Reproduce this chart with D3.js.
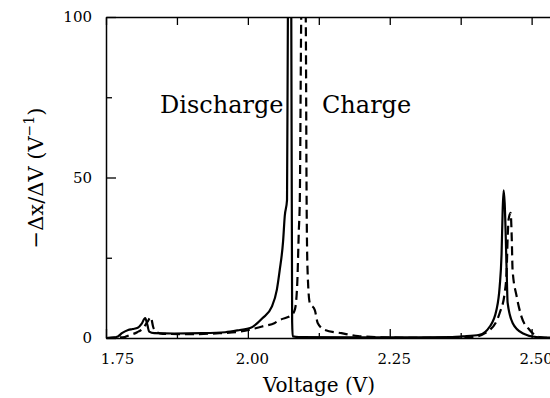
<!DOCTYPE html>
<html>
<head>
<meta charset="utf-8">
<script src="https://cdn.jsdelivr.net/npm/d3@7"></script>
<style>
  body { margin: 0; background: #fff; }
  text { font-family: "DejaVu Serif", serif; fill: #000; }
</style>
</head>
<body>
<div id="chart"></div>
<script>
// discharge curve (solid): [voltage, -dx/dV]
let discharge = [
  [1.75, 0], [1.76, 0.1], [1.771, 0.5], [1.778, 1.5], [1.789, 2.5], [1.797, 2.8],
  [1.806, 3.2], [1.813, 4.5], [1.819, 6.2], [1.823, 4], [1.826, 2], [1.835, 1.5],
  [1.87, 1.4], [1.92, 1.5], [1.96, 1.8], [1.986, 2.5], [2.004, 3.1], [2.026, 6.2],
  [2.042, 9.7], [2.051, 15], [2.056, 21], [2.062, 30], [2.065, 38], [2.069, 43],
  [2.0705, 100], [2.072, 115], [2.075, 115], [2.0765, 100], [2.078, 5], [2.079, 0.5],
  [2.09, 0.3], [2.2, 0.2], [2.3, 0.2], [2.36, 0.3], [2.3785, 0.5], [2.408, 1],
  [2.426, 3.5], [2.438, 8.7], [2.4437, 16], [2.447, 26], [2.449, 40], [2.4507, 46],
  [2.4525, 42], [2.456, 21], [2.4577, 11], [2.4665, 4.7], [2.484, 1.5], [2.509, 0.3],
  [2.532, 0.1], [2.55, 0.05]
];

// charge curve (dashed)
let charge = [
  [1.75, 0], [1.783, 0.3], [1.79, 0.8], [1.805, 1.8], [1.815, 3], [1.823, 5],
  [1.829, 6.5], [1.833, 3.5], [1.838, 2], [1.85, 1.3], [1.9, 1.2], [1.95, 1.5],
  [1.986, 2.0], [2.004, 2.6], [2.025, 3.6], [2.0475, 4.7], [2.056, 5.6], [2.0775, 7.2],
  [2.083, 9], [2.087, 17], [2.0897, 33], [2.0915, 43], [2.094, 100], [2.096, 115],
  [2.100, 115], [2.102, 100], [2.1035, 43], [2.105, 22], [2.109, 11], [2.118, 8.7],
  [2.123, 4.7], [2.136, 2.5], [2.165, 1.5], [2.194, 0.6], [2.224, 0.3], [2.26, 0.1],
  [2.3, 0.05], [2.36, 0.1], [2.396, 0.3], [2.426, 2.5], [2.4437, 7.8], [2.4525, 14],
  [2.456, 21], [2.4577, 31], [2.4595, 37], [2.463, 39], [2.465, 31], [2.4665, 21],
  [2.4736, 13], [2.4824, 6.5], [2.4965, 2.5], [2.514, 0.3], [2.532, 0], [2.55, 0]
];

let x_major = [1.75, 2.00, 2.25, 2.50];
let x_minor = [1.875, 2.125, 2.375];
let y_major = [0, 50, 100];
let y_minor = [25, 75];

let chart_width = 550;
let chart_height = 398;
let pad_left = 106, pad_right = 560, pad_top = 17, pad_bottom = 338;

let svg = d3.select('#chart')
  .append('svg')
  .attr('width', chart_width)
  .attr('height', chart_height);

//scales
let x_scale = d3.scaleLinear().domain([1.75, 2.55]).range([pad_left, pad_right]);
let y_scale = d3.scaleLinear().domain([0, 100]).range([pad_bottom, pad_top]);

//clip
svg.append('clipPath').attr('id', 'plot')
  .append('rect')
  .attr('x', pad_left).attr('y', pad_top)
  .attr('width', pad_right - pad_left).attr('height', pad_bottom - pad_top);

//axes
let style_axis = g => {
  g.select('.domain').attr('stroke', '#000').attr('stroke-width', 1.5);
  g.selectAll('.tick line').attr('stroke', '#000').attr('stroke-width', 1.3);
};

svg.append('g')
  .attr('transform', 'translate(0,' + pad_bottom + ')')
  .call(d3.axisBottom(x_scale).tickValues(x_major).tickSize(-9).tickSizeOuter(0)
    .tickPadding(15).tickFormat(d3.format('.2f')))
  .call(style_axis)
  .call(g => g.selectAll('text')
    .attr('font-size', 15)
    .attr('font-family', '"DejaVu Serif", serif')
    .attr('dx', (d, i) => i === 0 ? 11 : 4));

svg.append('g')
  .attr('transform', 'translate(0,' + pad_bottom + ')')
  .call(d3.axisBottom(x_scale).tickValues(x_minor).tickSize(-5).tickFormat(''))
  .call(style_axis)
  .call(g => g.select('.domain').remove());

svg.append('g')
  .attr('transform', 'translate(0,' + pad_top + ')')
  .call(d3.axisTop(x_scale).tickValues(x_major.concat(x_minor)).tickSize(-8)
    .tickSizeOuter(0).tickFormat(''))
  .call(style_axis);

svg.append('g')
  .attr('transform', 'translate(' + pad_left + ',0)')
  .call(d3.axisLeft(y_scale).tickValues(y_major).tickSize(-10).tickSizeOuter(0)
    .tickPadding(14))
  .call(style_axis)
  .call(g => g.selectAll('text')
    .attr('font-size', 15)
    .attr('font-family', '"DejaVu Serif", serif'));

svg.append('g')
  .attr('transform', 'translate(' + pad_left + ',0)')
  .call(d3.axisLeft(y_scale).tickValues(y_minor).tickSize(-6).tickFormat(''))
  .call(style_axis)
  .call(g => g.select('.domain').remove());

//lines
let line = d3.line()
  .x(d => x_scale(d[0]))
  .y(d => y_scale(d[1]))
  .curve(d3.curveMonotoneX);

let plot = svg.append('g').attr('clip-path', 'url(#plot)');

plot.append('path')
  .datum(discharge)
  .attr('d', line)
  .attr('fill', 'none')
  .attr('stroke', '#000')
  .attr('stroke-width', 2.2);

plot.append('path')
  .datum(charge)
  .attr('d', line)
  .attr('fill', 'none')
  .attr('stroke', '#000')
  .attr('stroke-width', 2.2)
  .attr('stroke-dasharray', '9,5');

//labels
svg.append('text')
  .attr('x', 160).attr('y', 113)
  .attr('font-size', 24)
  .text('Discharge');

svg.append('text')
  .attr('x', 322).attr('y', 113)
  .attr('font-size', 24)
  .text('Charge');

svg.append('text')
  .attr('x', 319).attr('y', 392)
  .attr('text-anchor', 'middle')
  .attr('font-size', 20)
  .text('Voltage (V)');

let ylab = svg.append('text')
  .attr('transform', 'translate(43,178) rotate(-90)')
  .attr('text-anchor', 'middle')
  .attr('font-size', 21);
ylab.append('tspan').text('\u2212\u0394x/\u0394V (V');
ylab.append('tspan').attr('font-size', 14).attr('dy', -9).text('\u22121');
ylab.append('tspan').attr('dy', 9).text(')');
</script>
</body>
</html>
